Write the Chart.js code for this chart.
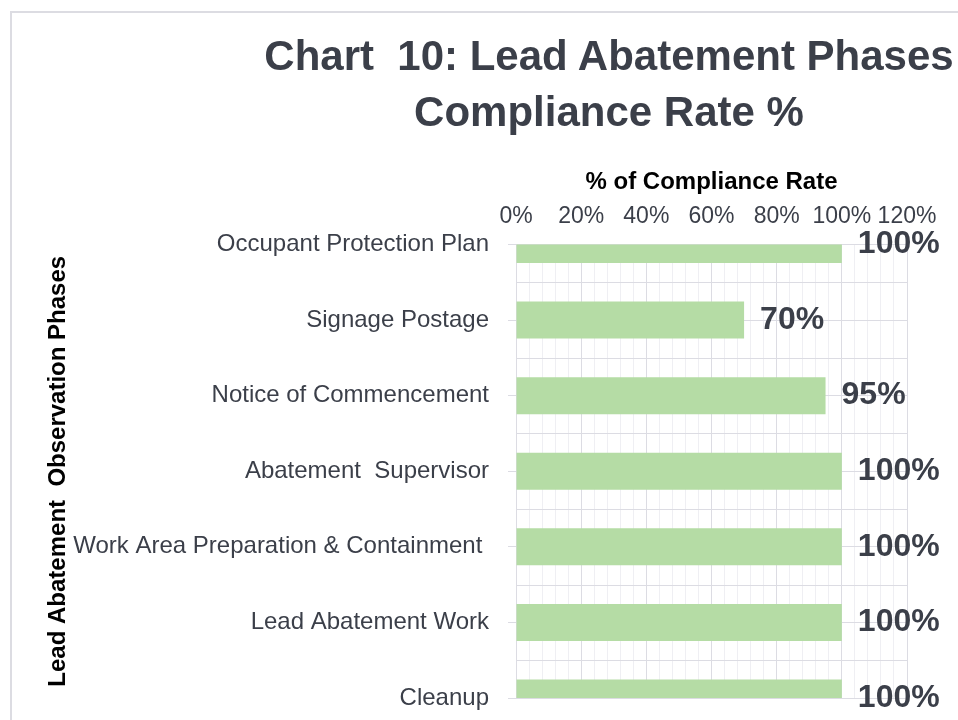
<!DOCTYPE html>
<html>
<head>
<meta charset="utf-8">
<title>Chart 10: Lead Abatement Phases Compliance Rate %</title>
<script src="https://cdn.jsdelivr.net/npm/chart.js@4.4.1/dist/chart.umd.min.js"></script>
<style>
  html, body { margin: 0; padding: 0; overflow: hidden; background: #fff; }
  #frame {
    position: absolute; left: 10px; top: 11px; width: 1100px; height: 800px;
    border-top: 2px solid #dcdce2; border-left: 2px solid #dcdce2;
  }
  #title {
    position: absolute; left: 0; top: 28px; width: 1218px;
    text-align: center; font: bold 42px/56px "Liberation Sans", Arial, sans-serif;
    color: #3b3f49; white-space: nowrap;
  }
  #wrap { position: absolute; left: 0; top: 0; width: 958px; height: 720px; }
</style>
</head>
<body>
<div id="frame"></div>
<div id="wrap"><canvas id="phaseChart" width="958" height="720"></canvas></div>
<div id="title">Chart&nbsp; 10: Lead Abatement Phases<br>Compliance Rate %</div>
<script>
// --- Daten ---
const phases = [
    'Occupant Protection Plan',
    'Signage Postage',
    'Notice of Commencement',
    'Abatement  Supervisor',
    'Work Area Preparation & Containment ',
    'Lead Abatement Work',
    'Cleanup'
];
const complianceRate = [100, 70, 95, 100, 100, 100, 100];
const rateTicks = [0, 20, 40, 60, 80, 100, 120];

// Farben
const TEXT = '#3b3f49';
const MAJOR = '#dcdce3';
const MINOR = '#efeff3';
const BAR = '#b5dca5';

Chart.defaults.font.family = '"Liberation Sans", Arial, sans-serif';

// Hilfslinien zwischen den Kategorien
const halfGrid = {
    id: 'halfGrid',
    beforeDatasetsDraw(chart) {
        const { ctx, chartArea } = chart;
        const yScale = chart.scales.y;
        ctx.save();
        ctx.strokeStyle = MAJOR;
        ctx.lineWidth = 1;
        ctx.beginPath();
        for (let i = 0; i < phases.length - 1; i++) {
            const y = Math.round(yScale.getPixelForValue(i + 0.5)) + 0.5;
            ctx.moveTo(chartArea.left, y);
            ctx.lineTo(chartArea.right, y);
        }
        ctx.stroke();
        ctx.restore();
    }
};

// Prozentwerte rechts neben den Balken
const valueLabels = {
    id: 'valueLabels',
    afterDatasetsDraw(chart) {
        const ctx = chart.ctx;
        const meta = chart.getDatasetMeta(0);
        ctx.save();
        ctx.font = 'bold 32px "Liberation Sans", Arial, sans-serif';
        ctx.fillStyle = TEXT;
        ctx.textAlign = 'left';
        ctx.textBaseline = 'middle';
        meta.data.forEach((bar, i) => {
            ctx.fillText(complianceRate[i] + '%', bar.x + 16, bar.y);
        });
        ctx.restore();
    }
};

const ctx = document.getElementById('phaseChart').getContext('2d');
new Chart(ctx, {
    type: 'bar',
    data: {
        labels: phases,
        datasets: [{
            label: 'Compliance Rate',
            data: complianceRate,
            xAxisID: 'x',
            yAxisID: 'y',
            backgroundColor: BAR,
            borderWidth: 0,
            categoryPercentage: 0.5,
            barPercentage: 0.98,
            clip: 0
        }]
    },
    options: {
        indexAxis: 'y',
        responsive: false,
        animation: false,
        layout: { padding: { top: 164, left: 40, right: 51, bottom: 22 } },
        plugins: {
            legend: { display: false },
            tooltip: { enabled: false }
        },
        scales: {
            xMinor: {
                type: 'linear', position: 'top', min: 0, max: 120, z: -1,
                ticks: { display: false, stepSize: 4 },
                grid: { color: MINOR, drawTicks: false },
                border: { display: false }
            },
            x: {
                type: 'linear', position: 'top',
                min: rateTicks[0], max: rateTicks[rateTicks.length - 1],
                afterBuildTicks: s => { s.ticks = rateTicks.map(v => ({ value: v })); },
                afterFit: s => { s.height = 80.5; },
                ticks: { color: TEXT, font: { size: 23 }, padding: 14, callback: v => v + '%' },
                grid: { color: MAJOR, drawTicks: false },
                border: { display: false },
                title: {
                    display: true, text: '% of Compliance Rate', color: '#000',
                    font: { size: 24, weight: 'bold' }, padding: { top: 4, bottom: 4 }
                }
            },
            y: {
                type: 'category', offset: false,
                afterFit: s => {
                    s.width = 476;
                    s.paddingTop = 0;
                    s.paddingBottom = 0;
                },
                ticks: { color: TEXT, font: { size: 24 }, padding: 19, autoSkip: false },
                grid: { offset: false, color: MAJOR, drawTicks: true, tickLength: 8 },
                border: { display: false },
                title: {
                    display: true, text: 'Lead Abatement  Observation Phases', color: '#000',
                    font: { size: 24, weight: 'bold' }, padding: { top: 4, bottom: 0 }
                }
            }
        }
    },
    plugins: [halfGrid, valueLabels]
});
</script>
</body>
</html>
